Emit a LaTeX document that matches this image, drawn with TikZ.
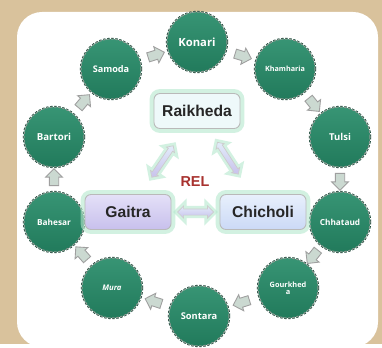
\documentclass[tikz,border=0pt]{standalone}
\usepackage{fontspec}
\setmainfont{Liberation Sans}
\newfontfamily\villagefont{Open Sans}
\usetikzlibrary{shapes.arrows}

\definecolor{parchment}{HTML}{D9C29C}
\definecolor{villagegreen}{HTML}{268B68}
\definecolor{ringgrey}{HTML}{8E9992}
\definecolor{stepfill}{HTML}{CBD9D1}
\definecolor{glowgreen}{HTML}{B4E8CD}
\definecolor{relred}{HTML}{A8322F}
\definecolor{raikfill}{HTML}{EEF9FA}
\definecolor{gaitratop}{HTML}{E4E0F8}
\definecolor{gaitrabottom}{HTML}{C8C0EC}
\definecolor{chicholitop}{HTML}{E8F0FC}
\definecolor{chicholibottom}{HTML}{CBD9F6}
\definecolor{linktop}{HTML}{E2ECFA}
\definecolor{linkbottom}{HTML}{C9C2EC}

\tikzset{
  village/.style={circle, minimum size=12mm, inner sep=0pt, align=center, text=white,
    top color=villagegreen!92!white, bottom color=villagegreen!88!black,
    preaction={draw=villagegreen!50!black, line width=1.3pt},
    draw=ringgrey, line width=0.6pt, dash pattern=on 1.4pt off 0.9pt,
    font=\villagefont\bfseries\fontsize{#1}{#1}\selectfont},
  ringarrow/.style={single arrow, draw=gray!75, fill=stepfill, line width=0.5pt,
    inner sep=0.85mm, minimum height=3.4mm, single arrow head extend=0.75mm,
    sloped, allow upside down},
  glow/.style={preaction={draw=glowgreen, line width=5pt, opacity=0.6}},
  place/.style={glow, rectangle, rounded corners=1.2mm, draw=gray!55, line width=0.5pt,
    minimum width=17.2mm, minimum height=7mm, text=black!85,
    font=\bfseries\fontsize{8.9}{10}\selectfont},
  linkarrow/.style={double arrow, preaction={draw=glowgreen, line width=3.5pt, opacity=0.6},
    draw=gray!40, line width=0.4pt, top color=linktop, bottom color=linkbottom,
    inner sep=0.45mm, double arrow head extend=0.45mm, minimum height=7.6mm,
    sloped, allow upside down}
}

\begin{document}
\begin{tikzpicture}[x=0.2mm, y=-0.2mm]
\fill [parchment] (0, 0) rectangle (382, 344);
\fill [white, rounded corners=5mm] (17, 12) rectangle (378, 347);

\node (konari) at (197, 42) [village=6.4] {Konari};
\node (khamharia) at (285, 69) [village=4.1] {Khamharia};
\node (tulsi) at (340, 137) [village=5.4] {Tulsi};
\node (chhataud) at (340, 222) [village=4.7] {Chhataud};
\node (gourkheda) at (288, 288) [village=4.2] {Gourkhed\\a};
\node (sontara) at (199, 316) [village=5.3] {Sontara};
\node (mura) at (112, 288) [village=4.4] {\itshape Mura};
\node (bahesar) at (54, 222) [village=4.7] {Bahesar};
\node (bartori) at (54, 137) [village=5.5] {Bartori};
\node (samoda) at (111, 69) [village=5.2] {Samoda};

\path (konari) -- node (s1) [ringarrow] {} (khamharia);
\path (khamharia) -- node (s2) [ringarrow] {} (tulsi);
\path (tulsi) -- node (s3) [ringarrow] {} (chhataud);
\path (chhataud) -- node (s4) [ringarrow] {} (gourkheda);
\path (gourkheda) -- node (s5) [ringarrow] {} (sontara);
\path (sontara) -- node (s6) [ringarrow] {} (mura);
\path (mura) -- node (s7) [ringarrow] {} (bahesar);
\path (bahesar) -- node (s8) [ringarrow] {} (bartori);
\path (bartori) -- node (s9) [ringarrow] {} (samoda);
\path (samoda) -- node (s10) [ringarrow] {} (konari);

\node (raikheda) at (197, 111) [place, fill=raikfill] {Raikheda};
\node (gaitra) at (128, 212) [place, top color=gaitratop, bottom color=gaitrabottom] {Gaitra};
\node (chicholi) at (263, 212) [place, top color=chicholitop, bottom color=chicholibottom] {Chicholi};
\node (rel) at (195, 182) [text=relred, font=\bfseries\fontsize{8.2}{10}\selectfont] {REL};

\path (raikheda) -- node (l1) [linkarrow] {} (gaitra);
\path (raikheda) -- node (l2) [linkarrow, pos=0.45] {} (chicholi);
\path (gaitra) -- node (l3) [linkarrow, minimum height=7.2mm, inner sep=0.55mm, double arrow head extend=0.6mm] {} (chicholi);
\end{tikzpicture}
\end{document}
